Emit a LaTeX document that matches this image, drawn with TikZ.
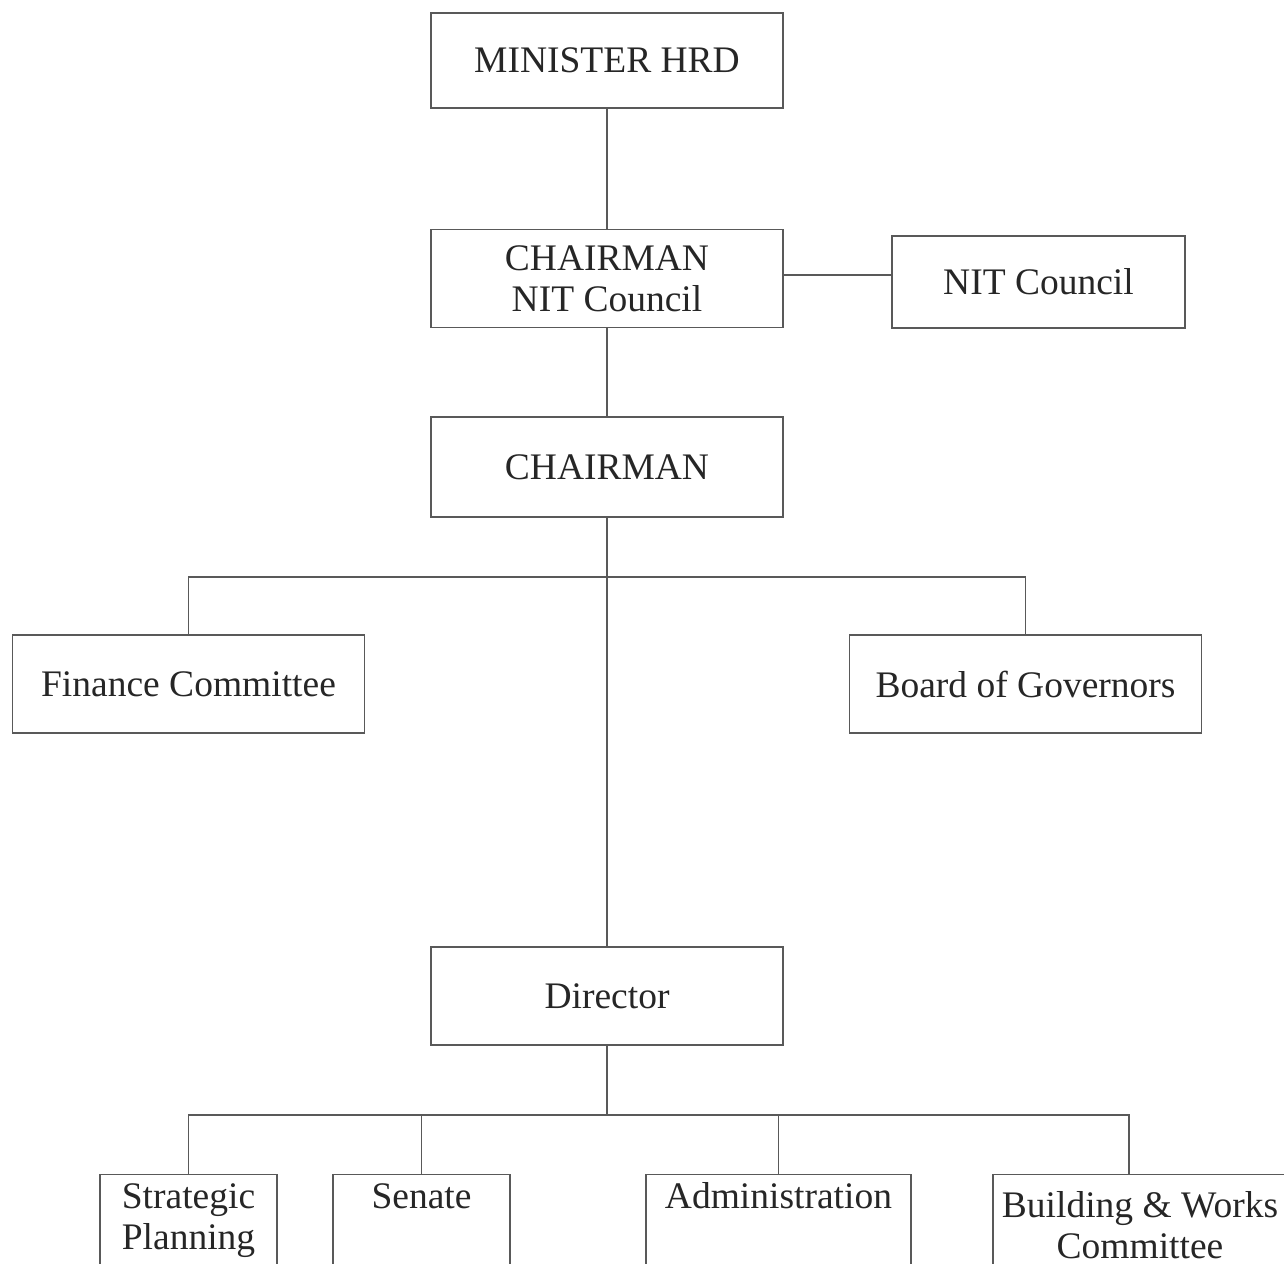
\documentclass[tikz,border=0pt]{standalone}
\usepackage{fontspec}
\setmainfont{Liberation Serif}
\usepackage{tikz}
\usetikzlibrary{positioning}

\begin{document}
\begin{tikzpicture}[x=1pt, y=-1pt,
  link/.style={draw=black!65, line width=1.3pt},
  box/.style={rectangle, draw=black!65, line width=1.3pt, minimum width=352pt, minimum height=98pt,
    inner sep=0pt, align=center, text=black!85, font=\fontsize{37.5}{41}\selectfont},
  sidebox/.style={box, minimum width=293pt, minimum height=92pt},
  lowbox/.style={box, anchor=north, minimum height=0pt, text depth=95pt}
]

  \clip (0,0) rectangle (1284,1263);

  % -- Top of the chart --
  \node[box, minimum height=95pt] (minister) at (607,60.5) {MINISTER HRD};
  \node[box] (chairNIT) at (607,278.5) {CHAIRMAN\\NIT Council};
  \node[sidebox] (council) at (1038.5,282) {NIT Council};
  \node[box, minimum height=100pt] (chairman) at (607,467) {CHAIRMAN};

  \draw[link] (minister) -- (chairNIT);
  \draw[link] ([yshift=3.5pt]chairNIT.east) -- ([yshift=3.5pt]chairNIT.east -| council.west);
  \draw[link] (chairNIT) -- (chairman);

  % -- Committees under the chairman --
  \node[box] (finance) at (188.5,684) {Finance Committee};
  \node[box] (board)   at (1025.5,684) {Board of Governors};
  \coordinate (split1) at (607,577);

  \draw[link] (finance.north) |- (split1) -| (board.north);

  % -- Director and the bodies below --
  \node[box] (director) at (607,996) {Director};
  \draw[link] (chairman) -- (director);

  \node[lowbox, minimum width=177pt, text height=75pt] (strategic) at (188.5,1174) {Strategic\\Planning};
  \node[lowbox, minimum width=177pt, text height=34pt] (senate)    at (421.5,1174) {Senate};
  \node[lowbox, minimum width=265pt, text height=34pt] (admin)     at (778.5,1174) {Administration};
  \node[lowbox, minimum width=294pt, text height=84pt] (building)  at (1140,1174) {Building \& Works\\Committee};

  \coordinate (split2) at (607,1115);
  \coordinate (buildtop) at (1129,1174);
  \draw[link] (director) -- (split2);
  \draw[link] (strategic.north) |- (split2) -| (buildtop);
  \draw[link] (senate.north) -- (senate.north |- split2);
  \draw[link] (admin.north) -- (admin.north |- split2);

\end{tikzpicture}
\end{document}
